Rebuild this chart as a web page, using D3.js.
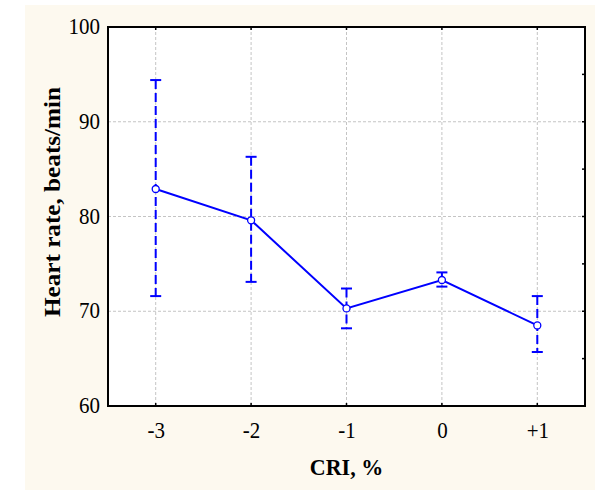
<!DOCTYPE html>
<html><head><meta charset="utf-8">
<script src="https://cdn.jsdelivr.net/npm/d3@7"></script>
<style>body{margin:0;background:#fff}svg{display:block}</style>
</head><body>
<script>
const categories = ["-3", "-2", "-1", "0", "+1"];
const xValues = [-3, -2, -1, 0, 1];
const means = [82.9, 79.6, 70.3, 73.3, 68.5];
const upper = [94.4, 86.3, 72.4, 74.1, 71.6];
const lower = [71.6, 73.1, 68.2, 72.6, 65.7];
const yTicks = [60, 70, 80, 90, 100];
const yMinor = [65, 75, 85, 95];
const xLabel = "CRI, %";
const yLabel = "Heart rate, beats/min";

const W = 595, H = 490;
const L = 108, R = 585, T = 27, B = 406;
const svg = d3.select("body").append("svg").attr("width", W).attr("height", H);
svg.append("rect").attr("x", 25).attr("y", 5).attr("width", W - 25).attr("height", H - 5).attr("fill", "#fdf9ef");
svg.append("rect").attr("x", L).attr("y", T).attr("width", R - L).attr("height", B - T).attr("fill", "#fff");

const x = d3.scaleLinear().domain([-3.5, 1.5]).range([L, R]);
const y = d3.scaleLinear().domain([60, 100]).range([B, T]);
const font = "'Liberation Serif','Times New Roman',serif";

// grid
const g = svg.append("g");
g.selectAll(".gx").data(xValues).join("line")
  .attr("x1", d => x(d)).attr("x2", d => x(d)).attr("y1", T).attr("y2", B)
  .attr("stroke", "#c4c4c4").attr("stroke-width", 1).attr("stroke-dasharray", "3,2");
g.selectAll(".gy").data([70, 80, 90]).join("line")
  .attr("y1", d => y(d)).attr("y2", d => y(d)).attr("x1", L).attr("x2", R)
  .attr("stroke", "#c4c4c4").attr("stroke-width", 1).attr("stroke-dasharray", "3,2");

// axes
const yAxis = d3.axisLeft(y).tickValues(yTicks).tickSize(0).tickPadding(8);
const ya = svg.append("g").attr("transform", `translate(${L},0)`).call(yAxis);
ya.select(".domain").remove();
ya.selectAll("text").attr("font-family", font).attr("font-size", 21).attr("fill", "#000")
  .attr("transform", "scale(1,1.1)").attr("dy", "0.29em");

const xAxis = d3.axisBottom(x).tickValues(xValues).tickFormat((d, i) => categories[i]).tickSize(0).tickPadding(14);
const xa = svg.append("g").attr("transform", `translate(0,${B})`).call(xAxis);
xa.select(".domain").remove();
xa.selectAll("text").attr("font-family", font).attr("font-size", 21).attr("fill", "#000")
  .attr("transform", "scale(1,1.1)");

// inner ticks
const tk = svg.append("g").attr("stroke", "#000").attr("stroke-width", 1.5);
tk.selectAll(".tt").data(xValues).join("line")
  .attr("x1", d => x(d)).attr("x2", d => x(d)).attr("y1", T).attr("y2", T + 3);
tk.selectAll(".tb").data(xValues).join("line")
  .attr("x1", d => x(d)).attr("x2", d => x(d)).attr("y1", B).attr("y2", B - 3);
tk.selectAll(".tr").data(yTicks.concat(yMinor)).join("line")
  .attr("y1", d => y(d)).attr("y2", d => y(d)).attr("x1", R).attr("x2", R - 3);

// frame
svg.append("rect").attr("x", L).attr("y", T).attr("width", R - L).attr("height", B - T)
  .attr("fill", "none").attr("stroke", "#000").attr("stroke-width", 2);

// error bars
const blue = "#0000ff";
const eb = svg.append("g").attr("stroke", blue).attr("stroke-width", 2);
eb.selectAll(".v").data(xValues).join("line")
  .attr("x1", d => x(d)).attr("x2", d => x(d))
  .attr("y1", (d, i) => y(upper[i])).attr("y2", (d, i) => y(lower[i]))
  .attr("stroke-dasharray", "9,4");
eb.selectAll(".cu").data(xValues).join("line")
  .attr("x1", d => x(d) - 5.5).attr("x2", d => x(d) + 5.5)
  .attr("y1", (d, i) => y(upper[i])).attr("y2", (d, i) => y(upper[i]));
eb.selectAll(".cl").data(xValues).join("line")
  .attr("x1", d => x(d) - 5.5).attr("x2", d => x(d) + 5.5)
  .attr("y1", (d, i) => y(lower[i])).attr("y2", (d, i) => y(lower[i]));

// line
const line = d3.line().x((d, i) => x(xValues[i])).y(d => y(d));
svg.append("path").datum(means).attr("d", line).attr("fill", "none").attr("stroke", blue).attr("stroke-width", 2);
svg.selectAll(".pt").data(means).join("circle")
  .attr("cx", (d, i) => x(xValues[i])).attr("cy", d => y(d)).attr("r", 3.5)
  .attr("fill", "#fff").attr("stroke", blue).attr("stroke-width", 1.3);

// labels
svg.append("text").attr("transform", `translate(${(L + R) / 2},475) scale(1,1.08)`).attr("text-anchor", "middle")
  .attr("font-family", font).attr("font-size", 22).attr("font-weight", "bold").text(xLabel);
svg.append("text").attr("transform", `translate(60,202) rotate(-90) scale(1.05,1)`).attr("text-anchor", "middle")
  .attr("font-family", font).attr("font-size", 24).attr("font-weight", "bold").text(yLabel);
</script>
</body></html>
